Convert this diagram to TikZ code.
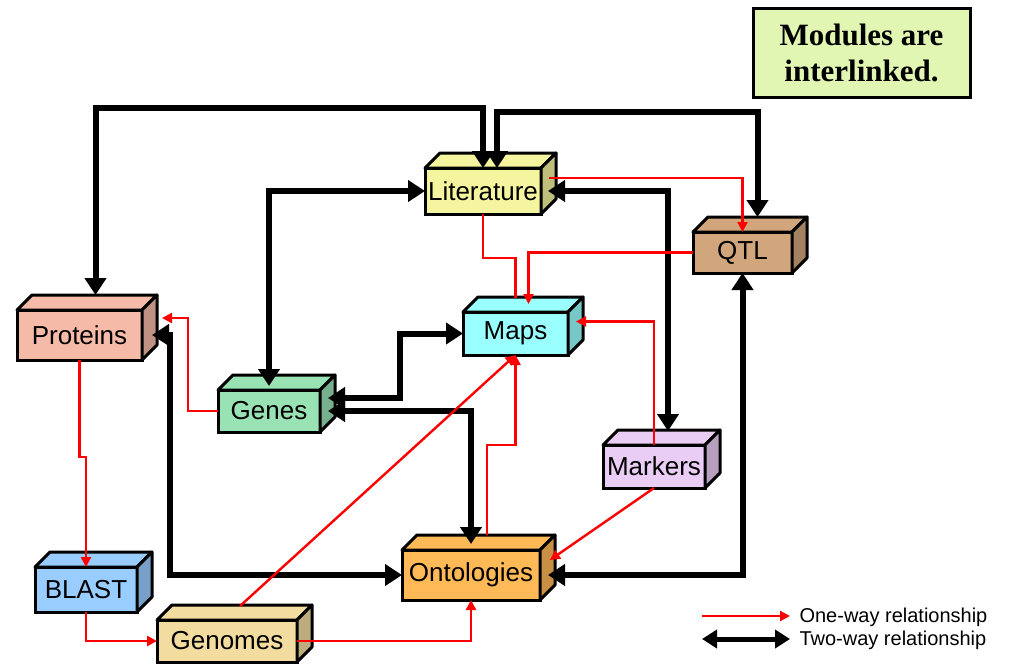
\documentclass[tikz,border=0pt]{standalone}
\usepackage{fontspec}
\setmainfont{Liberation Sans}
\newfontfamily\titlefont{Liberation Serif}
\usepackage{tikz}
\usetikzlibrary{arrows.meta,calc}

\definecolor{litcol}{HTML}{F5F5A0}
\definecolor{protcol}{HTML}{F5BBA8}
\definecolor{qtlcol}{HTML}{D2A67C}
\definecolor{mapcol}{HTML}{99FFFF}
\definecolor{genecol}{HTML}{99E2B4}
\definecolor{markcol}{HTML}{EACDF5}
\definecolor{blastcol}{HTML}{99CCFF}
\definecolor{genomecol}{HTML}{F2DCA0}
\definecolor{ontocol}{HTML}{FFB957}
\definecolor{legcol}{HTML}{E0F6B2}

\tikzset{
    module/.style={rectangle, draw, line width=3pt, fill=#1, inner sep=0pt, outer sep=0pt,
        font=\fontsize{26}{30}\selectfont},
    oneway/.style={red, line width=2.4pt, -{Triangle[length=10pt,width=10pt]}},
    twoway/.style={line width=6pt, {Triangle[length=17pt,width=21pt]}-{Triangle[length=17pt,width=21pt]}},
}

\begin{document}
\begin{tikzpicture}[x=1pt,y=-1pt]
    \useasboundingbox (0,0) rectangle (1009,665);

    \node at (483,191) [module=litcol, minimum width=116pt, minimum height=46pt] (Literature) {Literature};
    \node at (79.5,335) [module=protcol, minimum width=125pt, minimum height=50pt] (Proteins) {Proteins};
    \node at (742.5,252.5) [module=qtlcol, minimum width=99pt, minimum height=41pt] (QTL) {QTL};
    \node at (515.5,333.5) [module=mapcol, minimum width=105pt, minimum height=43pt] (Maps) {Maps};
    \node at (269,411) [module=genecol, minimum width=102pt, minimum height=42pt] (Genes) {Genes};
    \node at (654,466.5) [module=markcol, minimum width=102pt, minimum height=43pt] (Markers) {Markers};
    \node at (86,589.5) [module=blastcol, minimum width=102pt, minimum height=45pt] (BLAST) {BLAST};
    \node at (227,641) [module=genomecol, minimum width=140pt, minimum height=42pt] (Genomes) {Genomes};
    \node at (471,575) [module=ontocol, minimum width=138pt, minimum height=50pt] (Ontologies) {Ontologies};

    % top and side faces of the boxes
    \foreach \n/\c in {Literature/litcol, Proteins/protcol, QTL/qtlcol, Maps/mapcol, Genes/genecol,
                       Markers/markcol, BLAST/blastcol, Genomes/genomecol, Ontologies/ontocol} {
        \filldraw[fill=\c, line width=3pt, line join=round] (\n.north west) -- ++(15pt,15pt)
            -- ([shift={(15pt,15pt)}]\n.north east) -- (\n.north east) -- cycle;
        \filldraw[fill=\c!78!black, line width=3pt, line join=round] (\n.north east) -- ++(15pt,15pt)
            -- ([shift={(15pt,15pt)}]\n.south east) -- (\n.south east) -- cycle;
    }

    \node at (861.5,52.5) [draw, line width=3pt, fill=legcol, minimum width=217pt, minimum height=89pt,
        align=center, font=\titlefont\bfseries\fontsize{31}{36}\selectfont] (Title) {Modules are\\interlinked.};

    % two-way links
    \draw[twoway] ([shift={(16pt,15pt)}]Proteins.north) |- ([yshift=60pt]Literature.north) -- (Literature.north);
    \draw[twoway] ([xshift=14pt]Literature.north) -- ++(0pt,56pt) -| ([shift={(15pt,15pt)}]QTL.north);
    \draw[twoway] (Literature.west) -| ([yshift=4pt]Genes.north);
    \draw[twoway] ([xshift=7pt]Literature.east) -| ([shift={(14pt,14pt)}]Markers.north);
    \draw[twoway] ([xshift=8pt,yshift=13pt]Genes.east) -- ++(72pt,0pt) |- (Maps.west);
    \draw[twoway] ([xshift=8pt]Genes.east) -| ([yshift=6pt]Ontologies.north);
    \draw[twoway] ([xshift=10pt]Proteins.east) -- ++(18pt,0pt) |- (Ontologies.west);
    \draw[twoway] (QTL.south) |- ([xshift=8pt]Ontologies.east);

    % one-way links
    \draw[oneway] ([xshift=8pt,yshift=13pt]Literature.east) -| (QTL.north);
    \draw[red, line width=2.4pt] (Literature.south) -- ++(0pt,-44pt) -| ([yshift=14pt]Maps.north);
    \draw[oneway] (QTL.west) -| ([shift={(13pt,8pt)}]Maps.north);
    \draw[oneway] (Markers.north) |- ([xshift=8pt,yshift=12pt]Maps.east);
    \draw[oneway] (Genes.west) -- ++(-30pt,0pt) |- ([xshift=20pt,yshift=17pt]Proteins.east);
    \draw[oneway] (Proteins.south) -- ++(0pt,-97pt) -| (BLAST.north);
    \draw[oneway] (BLAST.south) |- (Genomes.west);
    \draw[oneway] (Genomes.east) -| (Ontologies.south);
    \draw[oneway] ([xshift=13pt,yshift=14pt]Genomes.north) -- (Maps.south);
    \draw[oneway] ([xshift=16pt,yshift=15pt]Ontologies.north) -- ++(0pt,90pt) -| (Maps.south);
    \draw[oneway] (Markers.south) -- ([xshift=10pt,yshift=15pt]Ontologies.east);

    % legend
    \coordinate (OneStart) at (702,616);
    \coordinate (OneEnd) at (790,616);
    \coordinate (TwoStart) at (702,639);
    \coordinate (TwoEnd) at (790,639);
    \draw[oneway] (OneStart) -- (OneEnd);
    \draw[line width=5pt, {Triangle[length=15pt,width=18pt]}-{Triangle[length=15pt,width=18pt]}] (TwoStart) -- (TwoEnd);
    \node at (796,617) [anchor=west, font=\fontsize{20}{22}\selectfont] (OneText) {One-way relationship};
    \node at (796,640) [anchor=west, font=\fontsize{20}{22}\selectfont] (TwoText) {Two-way relationship};
\end{tikzpicture}
\end{document}
